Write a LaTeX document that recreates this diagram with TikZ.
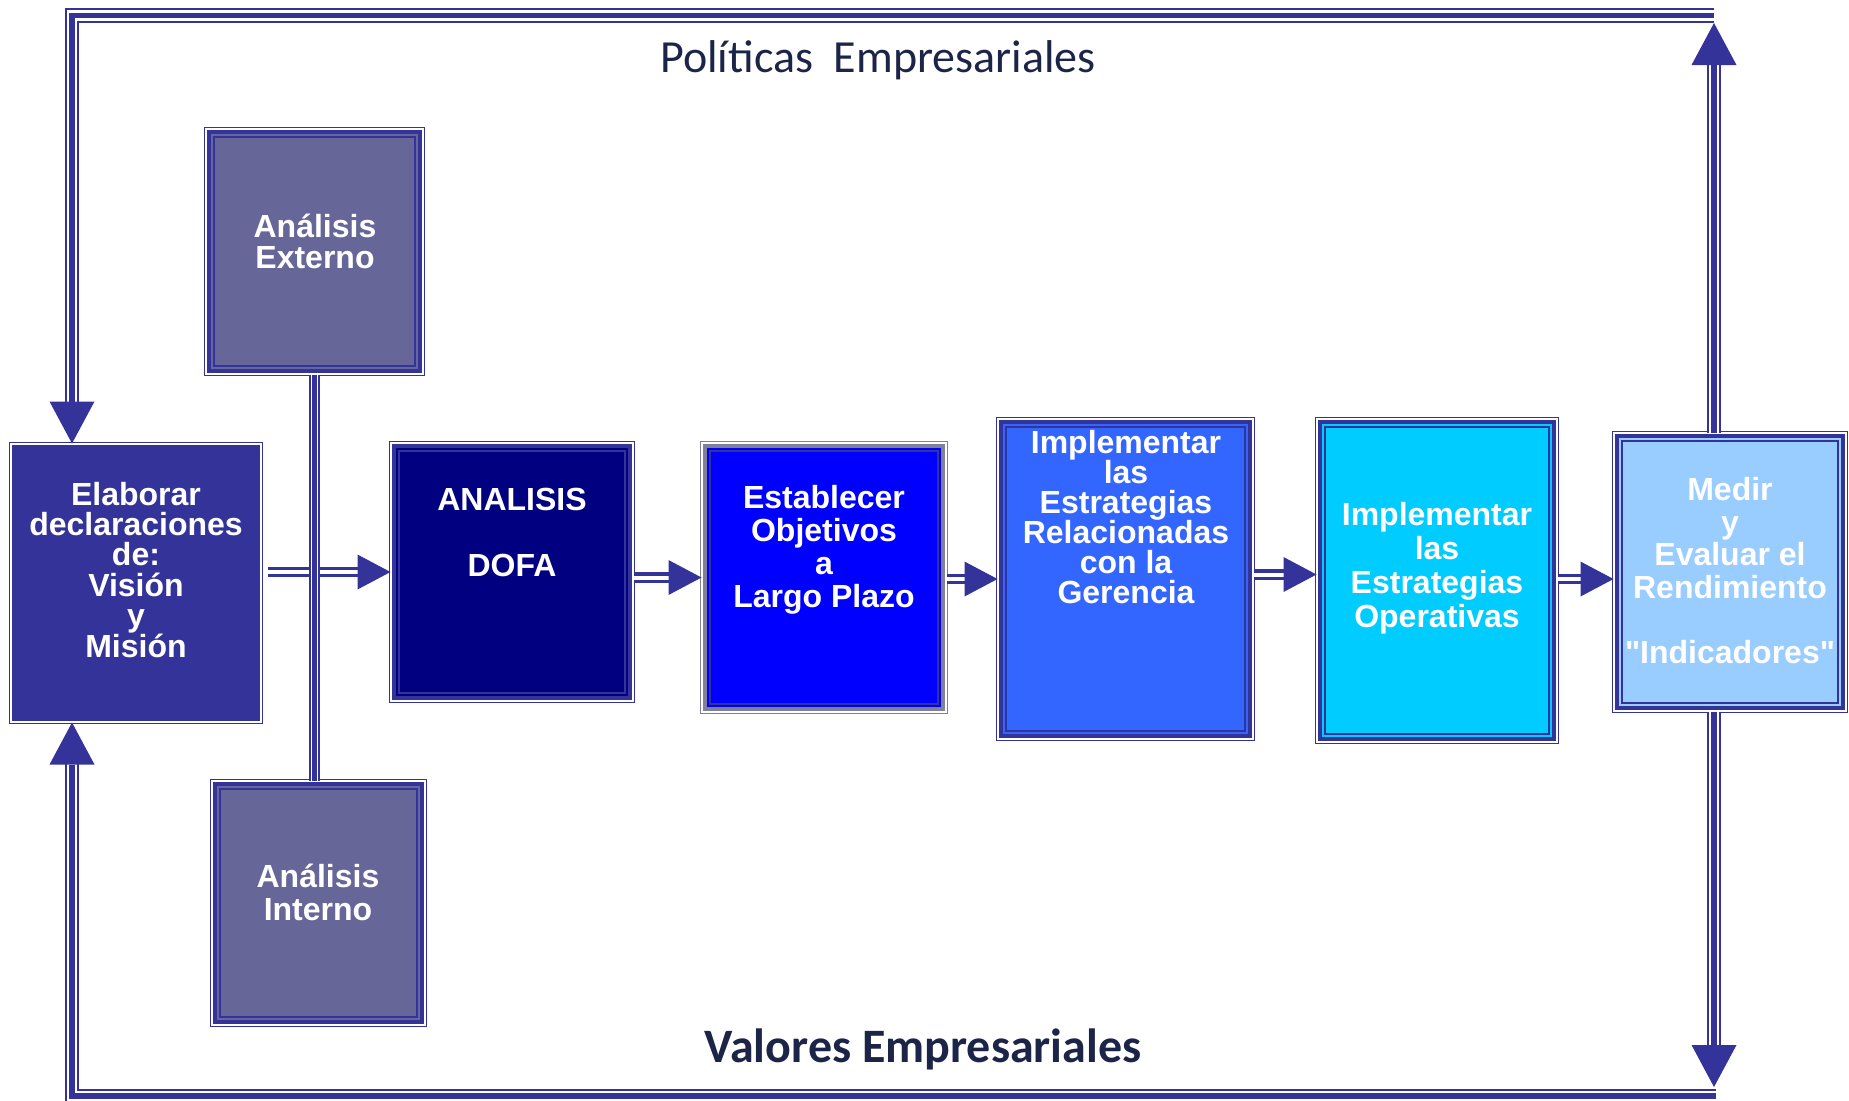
\documentclass[tikz,border=0pt]{standalone}
\usepackage{fontspec}
\setmainfont{Liberation Sans}[Ligatures=TeXOff]
\newfontfamily\titlefont{Carlito}
\usetikzlibrary{arrows.meta,positioning}

\definecolor{linec}{HTML}{333399}
\definecolor{greyc}{HTML}{808099}
\definecolor{titlec}{HTML}{1C2548}
\definecolor{elabc}{HTML}{333399}
\definecolor{anac}{HTML}{666699}
\definecolor{dofac}{HTML}{000080}
\definecolor{estabc}{HTML}{0000FF}
\definecolor{gerc}{HTML}{3366FF}
\definecolor{operc}{HTML}{00CCFF}
\definecolor{medirc}{HTML}{99CCFF}

\tikzset{
  procbox/.style={draw=linec, line width=0.75pt, double=white, double distance=1pt, inner sep=0pt},
  boxtext/.style={text=white, font=\bfseries\fontsize{16}{#1}\selectfont, align=center, anchor=base, inner sep=0pt},
  boxtext/.default=16.5,
  titletext/.style={text=titlec, font=\titlefont\fontsize{23}{27}\selectfont, anchor=base, inner sep=0pt},
  flow/.style={draw=white, line width=2pt,
    -{Triangle[width=17.5pt, length=16.5pt, line width=0pt, color=linec]},
    preaction={-, draw=linec, line width=1.6pt, double=white, double distance=2pt, shorten >=15pt}},
  bigarrow/.style={draw=linec, line width=2.8pt,
    -{Triangle[width=22.5pt, length=21pt, line width=0pt]},
    preaction={-, draw=linec, line width=0.85pt, double=white, double distance=5.4pt, shorten >=19pt}},
  link/.style={draw=linec, line width=2.2pt,
    preaction={-, draw=linec, line width=0.8pt, double=white, double distance=3.6pt}}
}

\begin{document}
\begin{tikzpicture}[x=0.5pt, y=-0.5pt]
\useasboundingbox (0,0) rectangle (1849,1100);

% boxes
\node[procbox, fill=elabc, minimum width=124.75pt, minimum height=138.75pt] (elab) at (136,583) {};
\node[procbox, fill=anac, minimum width=108.25pt, minimum height=122.25pt] (ext) at (314.5,251.5) {};
\node[procbox, fill=anac, minimum width=106.25pt, minimum height=121.75pt] (int) at (318.5,903) {};
\node[procbox, fill=dofac, minimum width=120.75pt, minimum height=128.75pt] (dofa) at (512,572) {};
\node[procbox, draw=greyc, fill=estabc, minimum width=121.75pt, minimum height=134.25pt] (estab) at (824,577.5) {};
\node[procbox, fill=gerc, minimum width=127.25pt, minimum height=159.75pt] (ger) at (1125.5,579) {};
\node[procbox, fill=operc, minimum width=119.75pt, minimum height=161.25pt] (oper) at (1437,580.5) {};
\node[procbox, fill=medirc, minimum width=115.75pt, minimum height=138.75pt] (medir) at (1730,572) {};

% inner frames
\foreach \b/\fc in {ext/linec,int/linec,dofa/linec,estab/greyc,ger/linec,oper/linec,medir/linec} {
  \draw[\fc, line width=1.5pt] ([shift={(2pt,-2pt)}]\b.north west) rectangle ([shift={(-2pt,2pt)}]\b.south east);
  \draw[linec, line width=0.7pt] ([shift={(4.2pt,-4.2pt)}]\b.north west) rectangle ([shift={(-4.2pt,4.2pt)}]\b.south east);
}

% texts (base = last line)
\node[boxtext=15.2] (elab-t) at (136,657) {Elaborar\\declaraciones\\de:\\Visión\\y\\Misión};
\node[boxtext=15.5] (ext-t) at (315,268) {Análisis\\Externo};
\node[boxtext] (int-t) at (318,920) {Análisis\\Interno};
\node[boxtext] (dofa-t) at (512,576) {ANALISIS\\\mbox{}\\DOFA};
\node[boxtext] (estab-t) at (824,607) {Establecer\\Objetivos\\a\\Largo Plazo};
\node[boxtext=15] (ger-t) at (1126,603) {Implementar\\las\\Estrategias\\Relacionadas\\con la\\Gerencia};
\node[boxtext=17] (oper-t) at (1437,627) {Implementar\\las\\Estrategias\\Operativas};
\node[boxtext=16.25] (medir-t) at (1730,663) {Medir\\y\\Evaluar el\\Rendimiento\\\mbox{}\\"Indicadores"};

\node[titletext] (pol) at (878,72) {Políticas~~Empresariales};
\node[titletext, font=\titlefont\bfseries\fontsize{24}{28}\selectfont] (val) at (923,1062) {Valores Empresariales};

% main flow
\coordinate (in-oper) at ([yshift=3pt]oper.west);
\coordinate (in-medir) at ([yshift=-3.5pt]medir.west);
\draw[flow] ([xshift=3pt]elab.east |- dofa.west) -- (dofa.west);
\draw[flow] (dofa.east |- estab.west) -- (estab.west);
\draw[flow] (estab.east |- ger.west) -- (ger.west);
\draw[flow] (ger.east |- in-oper) -- (in-oper);
\draw[flow] (oper.east |- in-medir) -- (in-medir);

\draw[link] (ext.south) -- (ext.south |- int.north);

% feedback loops
\coordinate (lx) at (72,15.5);
\coordinate (rx) at (1714,15.5);
\coordinate (uptip) at (1714,23);
\coordinate (downtip) at (1714,1087);
\coordinate (bl) at (72,1096);
\coordinate (br) at (1716,1096);

\draw[bigarrow] (medir.north -| uptip) -- (uptip);
\draw[bigarrow] (rx) -- (lx) -- (elab.north -| lx);
\draw[bigarrow] (medir.south -| downtip) -- (downtip);
\draw[bigarrow] (br) -- (bl) -- (elab.south -| bl);

\end{tikzpicture}
\end{document}
